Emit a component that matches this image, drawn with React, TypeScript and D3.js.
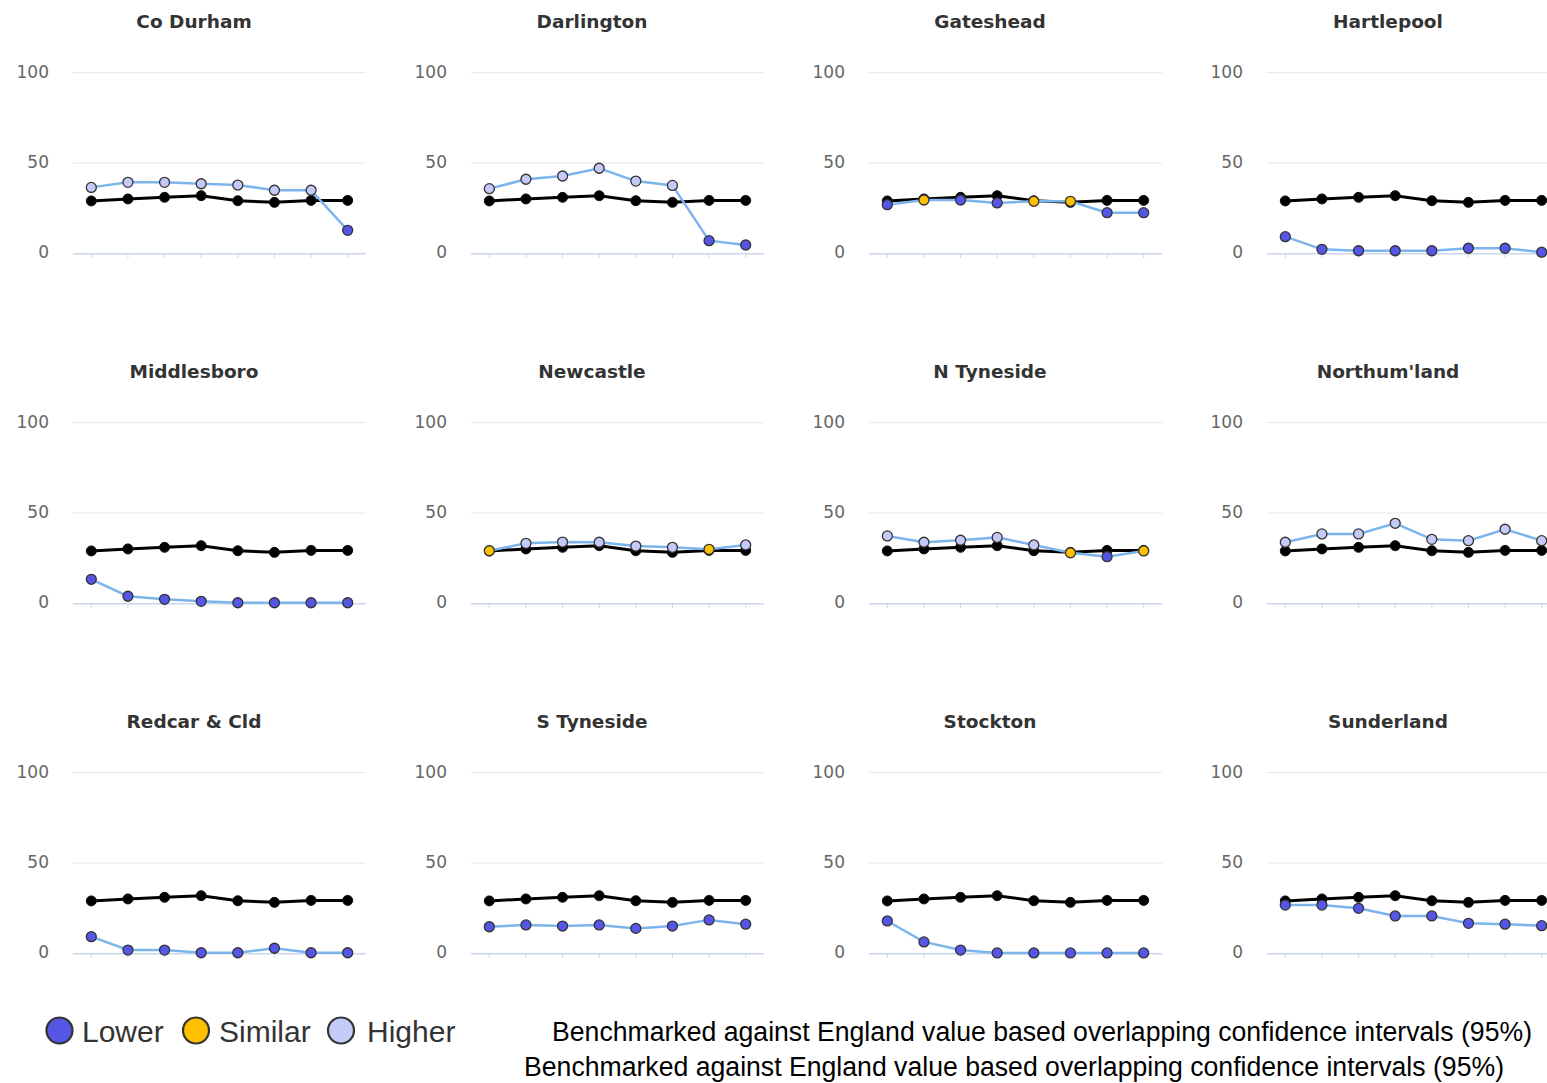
import React from "react";
import * as d3 from "d3";

// ---- data ----
const areas = [
  "Co Durham", "Darlington", "Gateshead", "Hartlepool",
  "Middlesboro", "Newcastle", "N Tyneside", "Northum'land",
  "Redcar & Cld", "S Tyneside", "Stockton", "Sunderland",
];
const periods = ["P1", "P2", "P3", "P4", "P5", "P6", "P7", "P8"];
const yTicks = [0, 50, 100];

const england = [29, 30.1, 31, 31.9, 29.1, 28.2, 29.3, 29.3];

const coDurham = [36.5, 39.3, 39.3, 38.5, 37.8, 34.9, 34.9, 12.7];
const darlington = [35.8, 41, 42.8, 47.1, 40, 37.6, 7, 4.6];
const gateshead = [26.9, 29.5, 29.5, 27.9, 28.8, 28.8, 22.5, 22.5];
const hartlepool = [9.2, 2.2, 1.4, 1.4, 1.4, 2.8, 2.8, 0.6];
const middlesboro = [13.3, 3.9, 2.2, 1.1, 0.3, 0.3, 0.3, 0.3];
const newcastle = [29.1, 33.2, 33.9, 33.8, 31.7, 31.0, 29.9, 32.3];
const nTyneside = [37.3, 33.8, 34.9, 36.5, 32.3, 28.0, 25.8, 29.0];
const northumland = [33.8, 38.4, 38.4, 44.3, 35.4, 34.7, 41.0, 34.7];
const redcar = [9.2, 1.8, 1.8, 0.3, 0.3, 2.8, 0.3, 0.3];
const sTyneside = [14.7, 15.7, 15.1, 15.7, 13.8, 15.1, 18.5, 16.1];
const stockton = [17.9, 6.3, 1.8, 0.2, 0.2, 0.2, 0.2, 0.2];
const sunderland = [26.7, 26.7, 24.9, 20.7, 20.7, 16.6, 16.1, 15.3];

// L = Lower, S = Similar, H = Higher
const coDurhamStatus = ["H", "H", "H", "H", "H", "H", "H", "L"];
const darlingtonStatus = ["H", "H", "H", "H", "H", "H", "L", "L"];
const gatesheadStatus = ["L", "S", "L", "L", "S", "S", "L", "L"];
const hartlepoolStatus = ["L", "L", "L", "L", "L", "L", "L", "L"];
const middlesboroStatus = ["L", "L", "L", "L", "L", "L", "L", "L"];
const newcastleStatus = ["S", "H", "H", "H", "H", "H", "S", "H"];
const nTynesideStatus = ["H", "H", "H", "H", "H", "S", "L", "S"];
const northumlandStatus = ["H", "H", "H", "H", "H", "H", "H", "H"];
const redcarStatus = ["L", "L", "L", "L", "L", "L", "L", "L"];
const sTynesideStatus = ["L", "L", "L", "L", "L", "L", "L", "L"];
const stocktonStatus = ["L", "L", "L", "L", "L", "L", "L", "L"];
const sunderlandStatus = ["L", "L", "L", "L", "L", "L", "L", "L"];

const legendLabels = ["Lower", "Similar", "Higher"];
const footnote = "Benchmarked against England value based overlapping confidence intervals (95%)";

const areaValues = [coDurham, darlington, gateshead, hartlepool, middlesboro, newcastle,
  nTyneside, northumland, redcar, sTyneside, stockton, sunderland];
const areaStatus = [coDurhamStatus, darlingtonStatus, gatesheadStatus, hartlepoolStatus,
  middlesboroStatus, newcastleStatus, nTynesideStatus, northumlandStatus, redcarStatus,
  sTynesideStatus, stocktonStatus, sunderlandStatus];

const statusColor: Record<string, string> = { L: "#5555e6", S: "#ffc000", H: "#c4c9f7" };
const legendColors = ["#5555e6", "#ffc000", "#c4cdf7"];

// ---- layout ----
const W = 1547, H = 1083;
const COL = 398, ROW = 350;
const plotL = 73, plotR = 366, plotT = 72.7, plotB = 253.3;

function Panel({ idx }: { idx: number }) {
  const col = idx % 4, row = Math.floor(idx / 4);
  const ox = col * COL, oy = row * ROW;
  const x = d3.scaleBand<string>().domain(periods).range([plotL, plotR]);
  const y = d3.scaleLinear().domain([0, 100]).range([plotB, plotT]);
  const cx = (p: string) => (x(p) as number) + x.bandwidth() / 2;
  const line = d3.line<number>().x((_, i) => cx(periods[i])).y((d) => y(d));
  const vals = areaValues[idx];
  const st = areaStatus[idx];
  return (
    <g transform={`translate(${ox},${oy})`}>
      <text x={194} y={28} textAnchor="middle" fontFamily="'DejaVu Sans', Verdana, sans-serif"
        fontWeight="bold" fontSize={18.5} fill="#333">{areas[idx]}</text>
      {yTicks.map((t) => (
        <g key={t}>
          {t !== 0 && <line x1={plotL} x2={plotR} y1={y(t)} y2={y(t)} stroke="#e6e6e6" strokeWidth={1} />}
          <text x={49} y={y(t) + 5} textAnchor="end" fontFamily="'DejaVu Sans', Verdana, sans-serif"
            fontSize={17} fill="#666">{t}</text>
        </g>
      ))}
      <line x1={plotL} x2={plotR} y1={y(0) + 0.5} y2={y(0) + 0.5} stroke="#ccd6eb" strokeWidth={1.5} />
      {periods.map((p) => (
        <line key={p} x1={cx(p)} x2={cx(p)} y1={y(0)} y2={y(0) + 4.5} stroke="#ccd6eb" strokeWidth={1} />
      ))}
      <path d={line(england) || ""} fill="none" stroke="#000" strokeWidth={3} />
      {england.map((v, i) => (
        <circle key={"e" + i} cx={cx(periods[i])} cy={y(v)} r={5} fill="#000" stroke="#111" strokeWidth={1} />
      ))}
      <path d={line(vals) || ""} fill="none" stroke="#7cb5ec" strokeWidth={2.5} />
      {vals.map((v, i) => (
        <circle key={"a" + i} cx={cx(periods[i])} cy={y(v)} r={5} fill={statusColor[st[i]]}
          stroke="#333" strokeWidth={1.3} />
      ))}
    </g>
  );
}

export default function App() {
  const legendCx = [59.5, 196, 341];
  const legendTx = [82, 219, 367];
  return (
    <svg width={W} height={H} style={{ position: "absolute", left: 0, top: 0, background: "#fff" }}>
      <rect width={W} height={H} fill="#fff" />
      {areas.map((_, i) => <Panel key={i} idx={i} />)}
      {legendLabels.map((l, i) => (
        <g key={l}>
          <circle cx={legendCx[i]} cy={1030.5} r={13} fill={legendColors[i]} stroke="#333" strokeWidth={2.2} />
          <text x={legendTx[i]} y={1042} fontFamily="'Liberation Sans', Arial, sans-serif" fontSize={30} fill="#333">{l}</text>
        </g>
      ))}
      <text x={552} y={1041} fontFamily="'Liberation Sans Narrow', 'Arial Narrow', 'Liberation Sans', sans-serif"
        fontSize={27} fill="#000" textLength={980} lengthAdjust="spacingAndGlyphs">{footnote}</text>
      <text x={524} y={1076} fontFamily="'Liberation Sans Narrow', 'Arial Narrow', 'Liberation Sans', sans-serif"
        fontSize={27} fill="#000" textLength={980} lengthAdjust="spacingAndGlyphs">{footnote}</text>
    </svg>
  );
}
